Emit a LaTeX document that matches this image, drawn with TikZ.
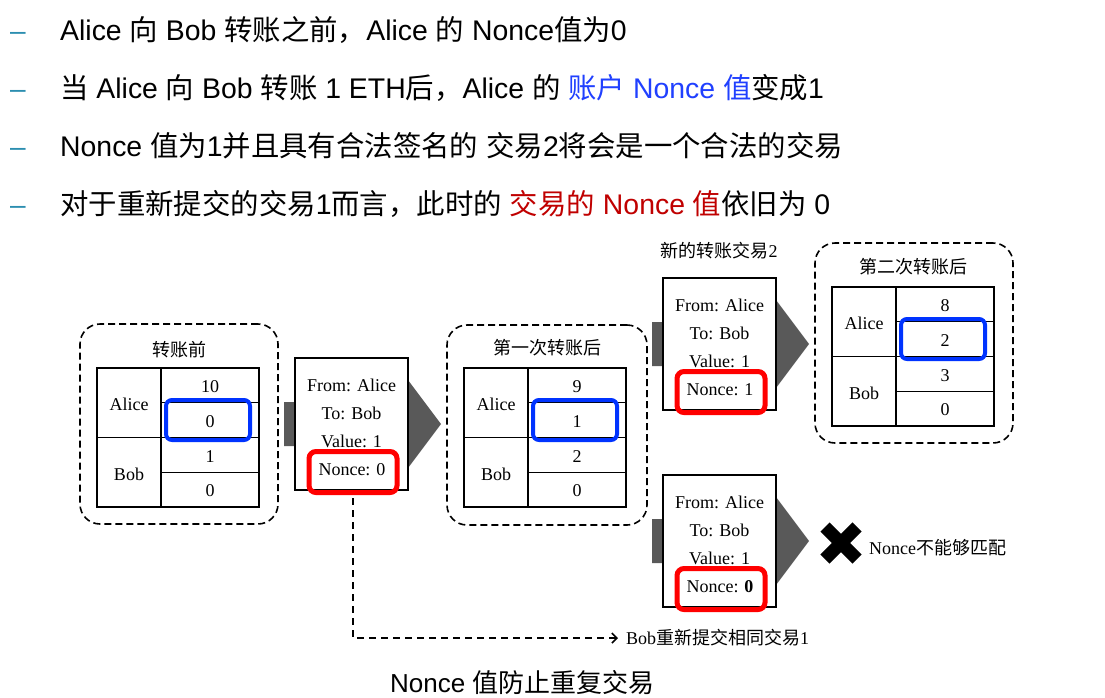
\documentclass[tikz,border=0pt]{standalone}
\usepackage{fontspec}
\setmainfont{Liberation Sans}
\newfontfamily\tnr{Liberation Serif}
\newfontfamily\cjk{Noto Sans CJK SC}
\usetikzlibrary{arrows.meta}
\newcommand\zh[1]{{\cjk #1}}
\definecolor{dashteal}{HTML}{2C8EB0}
\definecolor{tblue}{HTML}{2040FF}
\definecolor{tred}{HTML}{C00000}
\definecolor{hlblue}{HTML}{0033FF}
\definecolor{hlred}{HTML}{FF0000}
\definecolor{arrowgray}{HTML}{595959}
\tikzset{
  bullettext/.style={font=\fontsize{28.4}{30}\selectfont, inner sep=0pt, anchor=base west},
  bulletdash/.style={font=\fontsize{28}{30}\selectfont, inner sep=0pt, anchor=base west, text=dashteal},
  diag/.style={font=\tnr\fontsize{18}{20}\selectfont, inner sep=0pt},
  txbox/.style={draw, line width=1.5pt, fill=white, minimum width=113pt, minimum height=132pt, inner sep=0pt},
  redbox/.style={draw=hlred, line width=5pt, rounded corners=7pt, minimum width=88pt, minimum height=41pt, inner sep=0pt},
  bluebox/.style={draw=hlblue, line width=4pt, rounded corners=6pt, minimum width=84pt, minimum height=40pt, inner sep=0pt},
  tbl/.style={line width=1.4pt},
  group/.style={draw, dash pattern=on 7pt off 4pt, line width=1.6pt, rounded corners=20pt, inner sep=0pt},
  dashconn/.style={dash pattern=on 7pt off 5pt, line width=1.6pt},
  xline/.style={line width=13pt, line cap=butt},
  pics/tx/.style={code={
    \fill[arrowgray] (-11,44) -- (113,44) -- (113,22) -- (146,66) -- (113,110) -- (113,88) -- (-11,88) -- cycle;
    \node[txbox] (-box) at (56.5,66) {};
    \node[diag] (-from) at (56.5,27) {From: Alice};
    \node[diag] (-to) at (56.5,55) {To: Bob};
    \node[diag] (-val) at (56.5,83) {Value: 1};
    \node[diag] (-non) at (57,112) {Nonce: #1};
    \node[redbox] (-red) at (58,114) {};
  }},
  pics/acct/.style n args={4}{code={
    \draw[tbl] (0,0) rectangle (162,139);
    \draw[tbl] (64,0) -- (64,139);
    \draw[tbl] (0,69.5) -- (162,69.5);
    \draw[tbl] (64,34.75) -- (162,34.75);
    \draw[tbl] (64,104.25) -- (162,104.25);
    \node[diag] (-a) at (32,36) {Alice};
    \node[diag] (-b) at (32,106) {Bob};
    \node[diag] (-v1) at (113,18.5) {#1};
    \node[diag] (-v2) at (113,53.5) {#2};
    \node[diag] (-v3) at (113,88.5) {#3};
    \node[diag] (-v4) at (113,123) {#4};
    \node[bluebox] (-hl) at (111,52) {};
  }}
}
\begin{document}
\begin{tikzpicture}[x=1pt,y=-1pt]
\useasboundingbox[fill=white] (0,0) rectangle (1105,697);

% bullets
\node[bulletdash] (d1) at (10,40) {–};
\node[bulletdash] (d2) at (10,98) {–};
\node[bulletdash] (d3) at (10,156) {–};
\node[bulletdash] (d4) at (10,214) {–};
\node[bullettext] (b1) at (60,40) {Alice \zh{向} Bob \zh{转账之前，}Alice \zh{的} Nonce\zh{值为}0};
\node[bullettext] (b2) at (60,98) {\zh{当} Alice \zh{向} Bob \zh{转账} 1 ETH\zh{后，}Alice \zh{的} \textcolor{tblue}{\zh{账户} Nonce \zh{值}}\zh{变成}1};
\node[bullettext] (b3) at (60,156) {Nonce \zh{值为}1\zh{并且具有合法签名的} \zh{交易}2\zh{将会是一个合法的交易}};
\node[bullettext] (b4) at (60,214) {\zh{对于重新提交的交易}1\zh{而言，此时的} \textcolor{tred}{\zh{交易的} Nonce \zh{值}}\zh{依旧为} 0};

% groups
\node[group, minimum width=198pt, minimum height=200pt] (g1) at (179,424) {};
\node[group, minimum width=200pt, minimum height=200pt] (g2) at (547,425) {};
\node[group, minimum width=198pt, minimum height=200pt] (g3) at (914,343) {};
\node[diag] (g1t) at (179,350) {\zh{转账前}};
\node[diag] (g2t) at (547,348) {\zh{第一次转账后}};
\node[diag] (g3t) at (913,267) {\zh{第二次转账后}};

\pic (tA) at (97,368) {acct={10}{0}{1}{0}};
\pic (tB) at (464,368) {acct={9}{1}{2}{0}};
\pic (tC) at (832,287) {acct={8}{2}{3}{0}};

% transactions
\pic (t1) at (295,358) {tx={0}};
\pic (t2) at (663,278) {tx={1}};
\pic (t3) at (663,475) {tx={\textbf{0}}};
\node[diag] (t2t) at (719,251) {\zh{新的转账交易}2};

% failure mark
\coordinate (xm) at (841,543);
\draw[xline] ([shift={(-16,-16)}]xm) -- ([shift={(16,16)}]xm);
\draw[xline] ([shift={(-16,16)}]xm) -- ([shift={(16,-16)}]xm);
\node[diag, anchor=west] (fail) at (869,548) {Nonce\zh{不能够匹配}};

% resubmission
\node[diag, anchor=west] (bob) at (626,638) {Bob\zh{重新提交相同交易}1};
\draw[dashconn, -{Straight Barb[length=5pt,width=10pt,line width=1.6pt]}] ([yshift=-3pt]t1-red.south) |- ([xshift=-8pt]bob.west);

% caption
\node[bullettext, font=\fontsize{26}{28}\selectfont] (cap) at (390,692) {Nonce \zh{值防止重复交易}};
\end{tikzpicture}
\end{document}
